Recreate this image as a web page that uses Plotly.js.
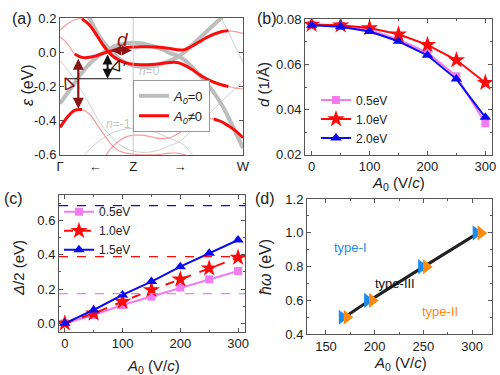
<!DOCTYPE html>
<html><head><meta charset="utf-8">
<script src="https://cdn.plot.ly/plotly-3.0.1.min.js"></script>
<style>html,body{margin:0;padding:0;background:#fff}#plot{width:500px;height:375px}</style>
</head><body><div id="plot"></div>
<script>
// ---------- Panel (a): band structure (k: Γ=0, Z=1, W=2.5) ----------
const kGrid = [0,0.1,0.2,0.3,0.4,0.5,0.6,0.7,0.8,0.9,1.0,1.1,1.2,1.3,1.4,1.5,1.6,1.7,1.8,1.9,2.0,2.1,2.2,2.3,2.4,2.5];
const grayUpper = [-0.30,-0.24,-0.18,-0.12,-0.07,-0.03,0.00,0.025,0.042,0.052,0.055,0.052,0.044,0.032,0.016,-0.005,-0.02,-0.045,-0.085,-0.13,-0.18,-0.235,-0.30,-0.38,-0.47,-0.56];
const grayLower = [0.45,0.40,0.34,0.27,0.20,0.12,0.055,0.005,-0.035,-0.062,-0.078,-0.085,-0.085,-0.078,-0.065,-0.05,-0.03,0.0,0.04,0.08,0.12,0.16,0.20,0.24,0.28,0.32];
const redBand1 = [0.13,0.165,0.19,0.195,0.16,0.10,0.035,-0.015,-0.045,-0.062,-0.07,-0.073,-0.073,-0.07,-0.065,-0.06,-0.06,-0.075,-0.10,-0.13,-0.155,-0.175,-0.19,-0.20,-0.21,-0.215];
const redBand2 = [0.09,0.05,-0.01,-0.03,-0.03,-0.02,-0.005,0.008,0.018,0.026,0.03,0.032,0.032,0.03,0.027,0.022,0.015,0.015,0.035,0.06,0.085,0.105,0.12,0.125,0.12,0.11];
const redBand3 = [-0.44,-0.38,-0.34,-0.335,-0.36,-0.42,-0.48,-0.54,-0.575,-0.59,-0.595,-0.6,-0.6,-0.6,-0.595,-0.59,-0.59,-0.6,-0.63,-0.66,-0.68,-0.70,-0.70,-0.70,-0.71,-0.72];
const redBand4 = [null,null,null,null,null,null,-0.62,-0.56,-0.52,-0.495,-0.485,-0.485,-0.49,-0.50,-0.505,-0.50,-0.48,-0.45,-0.42,-0.40,-0.39,-0.39,-0.405,-0.43,-0.46,-0.50];
const grayRepA = [-0.80,-0.74,-0.68,-0.62,-0.57,-0.53,-0.50,-0.475,-0.458,-0.448,-0.445,-0.448,-0.456,-0.468,-0.484,-0.505,-0.52,-0.545,-0.595,-0.635,-0.68,-0.735,-0.80,-0.88,-0.97,-1.06];
const grayRepB = [-0.05,-0.10,-0.16,-0.23,-0.30,-0.38,-0.445,-0.495,-0.535,-0.562,-0.578,-0.585,-0.585,-0.578,-0.565,-0.545,-0.53,-0.50,-0.455,-0.415,-0.375,-0.335,-0.29,-0.25,-0.21,-0.17];
const grayRepC = [null,null,null,null,null,null,null,null,null,null,null,null,null,null,null,null,null,null,null,0.38,0.32,0.265,0.20,0.12,0.03,-0.06];
const kTickVals = [0, 0.48, 1, 1.64, 2.5];
const kTickText = ['Γ', '←', 'Z', '→', 'W'];
const eTickVals = [0.2, 0.0, -0.2, -0.4, -0.6];
const eTickText = ['0.2', '0.0', '-0.2', '-0.4', '-0.6'];

// ---------- Panel (b): d vs A0 ----------
const A0 = [0, 50, 100, 150, 200, 250, 300];
const dPink = [0.0775, 0.0770, 0.0752, 0.0710, 0.0652, 0.0548, 0.0340];
const dRed  = [0.0776, 0.0773, 0.0761, 0.0733, 0.0686, 0.0619, 0.0519];
const dBlue = [0.0773, 0.0766, 0.0745, 0.0702, 0.0640, 0.0535, 0.0366];
const namesB = ['0.5eV', '1.0eV', '2.0eV'];

// ---------- Panel (c): Δ/2 vs A0 ----------
const gapPink = [0, 0.049, 0.107, 0.156, 0.209, 0.257, 0.306];
const gapRed  = [0, 0.058, 0.127, 0.195, 0.257, 0.322, 0.384];
const gapBlue = [0, 0.078, 0.166, 0.244, 0.331, 0.409, 0.487];
const namesC = ['0.5eV', '1.0eV', '1.5eV'];
const limitLevels = [0.173, 0.390, 0.688];

// ---------- Panel (d): phase boundary ----------
const critA0 = [169, 195, 250.5, 306.5];
const critHw = [0.5, 0.6, 0.8, 1.0];

const PINK = '#f27bf2', RED = '#ff0a0a', BLUE = '#0a0af0';
const DRED = '#8a1414', GRAYB = '#bdbdbd', THINRED = 'rgba(235,40,40,0.45)', THINGRAY = 'rgba(170,170,170,0.55)';
const FONT = 'Liberation Sans, Arial, sans-serif';

function seg(arr, a, b) { return arr.map((v, i) => (i >= a && i <= b) ? v : null); }

const traces = [];
[grayRepA, grayRepB, grayRepC].forEach(arr => traces.push({x: kGrid, y: arr, mode: 'lines', line: {color: THINGRAY, width: 1, shape: 'spline'}, showlegend: false, xaxis: 'x', yaxis: 'y', hoverinfo: 'skip'}));
traces.push({x: kGrid, y: grayUpper, mode: 'lines', line: {color: GRAYB, width: 4, shape: 'spline'}, name: '<i>A<sub>0</sub></i>=0', legend: 'legend', xaxis: 'x', yaxis: 'y'});
traces.push({x: kGrid, y: grayLower, mode: 'lines', line: {color: GRAYB, width: 4, shape: 'spline'}, showlegend: false, xaxis: 'x', yaxis: 'y'});
[redBand1, redBand2, redBand3, redBand4].forEach(arr => traces.push({x: kGrid, y: arr, mode: 'lines', line: {color: THINRED, width: 1.2, shape: 'spline'}, showlegend: false, xaxis: 'x', yaxis: 'y', connectgaps: false}));
traces.push({x: kGrid, y: seg(redBand1, 3, 23), mode: 'lines', line: {color: RED, width: 3, shape: 'spline'}, name: '<i>A<sub>0</sub></i>≠0', legend: 'legend', xaxis: 'x', yaxis: 'y'});
traces.push({x: kGrid, y: seg(redBand2, 2, 23), mode: 'lines', line: {color: RED, width: 3, shape: 'spline'}, showlegend: false, xaxis: 'x', yaxis: 'y'});
traces.push({x: kGrid, y: seg(redBand3, 0, 3), mode: 'lines', line: {color: RED, width: 3, shape: 'spline'}, showlegend: false, xaxis: 'x', yaxis: 'y'});
traces.push({x: kGrid, y: seg(redBand4, 21, 25), mode: 'lines', line: {color: RED, width: 3, shape: 'spline'}, showlegend: false, xaxis: 'x', yaxis: 'y'});

const mk = [{symbol: 'square', size: 8, color: PINK}, {symbol: 'star', size: 13, color: RED}, {symbol: 'triangle-up', size: 10, color: BLUE}];
[dPink, dRed, dBlue].forEach((arr, i) => traces.push({x: A0, y: arr, mode: 'lines+markers', name: namesB[i], legend: 'legend2',
  line: {color: mk[i].color, width: 2}, marker: {symbol: mk[i].symbol, size: mk[i].size, color: mk[i].color}, xaxis: 'x2', yaxis: 'y2'}));
const dashC = ['solid', 'dash', 'solid'];
[gapPink, gapRed, gapBlue].forEach((arr, i) => traces.push({x: A0, y: arr, mode: 'lines+markers', name: namesC[i], legend: 'legend3',
  line: {color: mk[i].color, width: 2, dash: dashC[i]}, marker: {symbol: mk[i].symbol, size: mk[i].size, color: mk[i].color}, xaxis: 'x3', yaxis: 'y3'}));
traces.push({x: critA0, y: critHw, mode: 'lines', line: {color: '#222', width: 3}, showlegend: false, xaxis: 'x4', yaxis: 'y4'});
traces.push({x: critA0.map(v => v - 2.5), y: critHw, mode: 'markers', marker: {symbol: 'triangle-right', size: 13, color: '#1a8cf0'}, showlegend: false, xaxis: 'x4', yaxis: 'y4'});
traces.push({x: critA0.map(v => v + 2.5), y: critHw, mode: 'markers', marker: {symbol: 'triangle-right', size: 13, color: '#ff8a10'}, showlegend: false, xaxis: 'x4', yaxis: 'y4'});

const axBase = {showline: true, mirror: 'allticks', linecolor: '#555', linewidth: 1, ticks: 'inside', ticklen: 4, tickcolor: '#555',
  showgrid: false, zeroline: false, tickfont: {family: FONT, size: 13, color: '#222'}};
const A0title = '<i>A</i><sub>0</sub> (V/<i>c</i>)';

function lab(text, px, py, extra) {
  return Object.assign({text: text, xref: 'paper', yref: 'paper', x: px / 500, y: 1 - py / 375, xanchor: 'center', yanchor: 'middle', showarrow: false, font: {size: 15}}, extra || {});
}
function dat(text, xr, yr, x, y, extra) {
  return Object.assign({text: text, xref: xr, yref: yr, x: x, y: y, xanchor: 'center', yanchor: 'middle', showarrow: false}, extra || {});
}

const layout = {
  width: 500, height: 375, margin: {l: 0, r: 0, t: 0, b: 0}, paper_bgcolor: '#fff', plot_bgcolor: '#fff',
  font: {family: FONT, size: 13, color: '#222'},
  xaxis: Object.assign({}, axBase, {domain: [0.12, 0.486], range: [0, 2.5], tickvals: kTickVals, ticktext: kTickText, ticks: '', anchor: 'y'}),
  yaxis: Object.assign({}, axBase, {domain: [0.587, 0.952], range: [-0.6, 0.2], tickvals: eTickVals, ticktext: eTickText, anchor: 'x'}),
  xaxis2: Object.assign({}, axBase, {domain: [0.61, 0.984], range: [-11.5, 311.5], tickvals: [0, 100, 200, 300], anchor: 'y2', minor: {ticks: 'inside', ticklen: 2, dtick: 50, tickcolor: '#555'}}),
  yaxis2: Object.assign({}, axBase, {domain: [0.587, 0.949], range: [0.02, 0.08], dtick: 0.02, tickformat: '.2f', anchor: 'x2', minor: {ticks: 'inside', ticklen: 2, dtick: 0.01, tickcolor: '#555'}}),
  xaxis3: Object.assign({}, axBase, {domain: [0.118, 0.49], range: [-10, 312], tickvals: [0, 100, 200, 300], anchor: 'y3', minor: {ticks: 'inside', ticklen: 2, dtick: 50, tickcolor: '#555'}}),
  yaxis3: Object.assign({}, axBase, {domain: [0.115, 0.48], range: [-0.05, 0.75], dtick: 0.2, tickformat: '.1f', anchor: 'x3', minor: {ticks: 'inside', ticklen: 2, dtick: 0.1, tickcolor: '#555'}}),
  xaxis4: Object.assign({}, axBase, {domain: [0.614, 0.984], range: [130.5, 320.5], tickvals: [150, 200, 250, 300], anchor: 'y4', minor: {ticks: 'inside', ticklen: 2, dtick: 25, tickcolor: '#555'}}),
  yaxis4: Object.assign({}, axBase, {domain: [0.109, 0.469], range: [0.4, 1.2], dtick: 0.2, tickformat: '.1f', anchor: 'x4', minor: {ticks: 'inside', ticklen: 2, dtick: 0.1, tickcolor: '#555'}}),
  legend: {x: 0.266, y: 0.787, xanchor: 'left', yanchor: 'top', bgcolor: '#fff', bordercolor: '#999', borderwidth: 1, font: {family: FONT, size: 13, color: '#222'}, tracegroupgap: 0},
  legend2: {x: 0.632, y: 0.772, xanchor: 'left', yanchor: 'top', bgcolor: 'rgba(0,0,0,0)', font: {family: FONT, size: 12, color: '#222'}},
  legend3: {x: 0.118, y: 0.474, xanchor: 'left', yanchor: 'top', bgcolor: 'rgba(0,0,0,0)', font: {family: FONT, size: 12, color: '#222'}},
  shapes: [
    {type: 'line', xref: 'x', yref: 'y domain', x0: 1, x1: 1, y0: 0, y1: 1, line: {color: '#c8c8c8', width: 1}},
    {type: 'line', xref: 'x', yref: 'y', x0: 0.1, x1: 0.84, y0: -0.155, y1: -0.155, line: {color: '#111', width: 1}}
  ].concat(limitLevels.map((v, i) => ({type: 'line', xref: 'x3 domain', yref: 'y3', x0: 0, x1: 1, y0: v, y1: v, line: {color: mk[i].color, width: 1.3, dash: 'dash'}}))),
  annotations: [
    lab('(a)', 22, 18, {font: {size: 16}}),
    lab('(b)', 267, 18, {font: {size: 16}}),
    lab('(c)', 13, 198, {font: {size: 16}}),
    lab('(d)', 265, 198, {font: {size: 16}}),
    lab('<i>ε</i> (eV)', 27, 85, {textangle: -90, font: {size: 16}}),
    lab('<i>d</i> (1/Å)', 263, 85, {textangle: -90}),
    lab(A0title, 398, 183),
    lab('<i>Δ</i>/2 (eV)', 18, 268, {textangle: -90}),
    lab(A0title, 153, 366),
    lab('<i>ħω</i> (eV)', 265, 267, {textangle: -90, font: {size: 16}}),
    lab(A0title, 400, 363),
    dat('<i>n</i>=0', 'x', 'y', 1.22, -0.11, {font: {size: 12, color: '#c4c4c4'}}),
    dat('<i>n</i>=-1', 'x', 'y', 0.8, -0.42, {font: {size: 12, color: '#c4c4c4'}}),
    {text: '', xref: 'x', yref: 'y', axref: 'x', ayref: 'y', x: 0.25, y: -0.33, ax: 0.25, ay: -0.03, showarrow: true, arrowside: 'end+start', arrowhead: 2, arrowsize: 1, arrowwidth: 2.2, arrowcolor: DRED},
    {text: '', xref: 'x', yref: 'y', axref: 'x', ayref: 'y', x: 0.65, y: -0.155, ax: 0.65, ay: -0.005, showarrow: true, arrowside: 'end+start', arrowhead: 2, arrowsize: 1, arrowwidth: 2, arrowcolor: '#111'},
    {text: '', xref: 'x', yref: 'y', axref: 'x', ayref: 'y', x: 0.98, y: 0.01, ax: 0.68, ay: 0.01, showarrow: true, arrowside: 'end+start', arrowhead: 2, arrowsize: 1, arrowwidth: 2, arrowcolor: DRED},
    dat('<i>d</i>', 'x', 'y', 0.86, 0.075, {font: {size: 19, color: DRED}}),
    dat('Δ', 'x', 'y', 0.1, -0.18, {textangle: -25, font: {size: 17, color: DRED}}),
    dat("Δ'", 'x', 'y', 0.8, -0.08, {textangle: 20, font: {size: 15, color: '#111'}}),
    dat('type-I', 'x4', 'y4', 175, 0.915, {font: {size: 13, color: '#1a8cf0'}}),
    dat('type-III', 'x4', 'y4', 221, 0.70, {font: {size: 13, color: '#111'}}),
    dat('type-II', 'x4', 'y4', 267, 0.535, {font: {size: 13, color: '#ff8a10'}})
  ]
};

Plotly.newPlot('plot', traces, layout, {displayModeBar: false, staticPlot: true});
</script>
</body></html>
